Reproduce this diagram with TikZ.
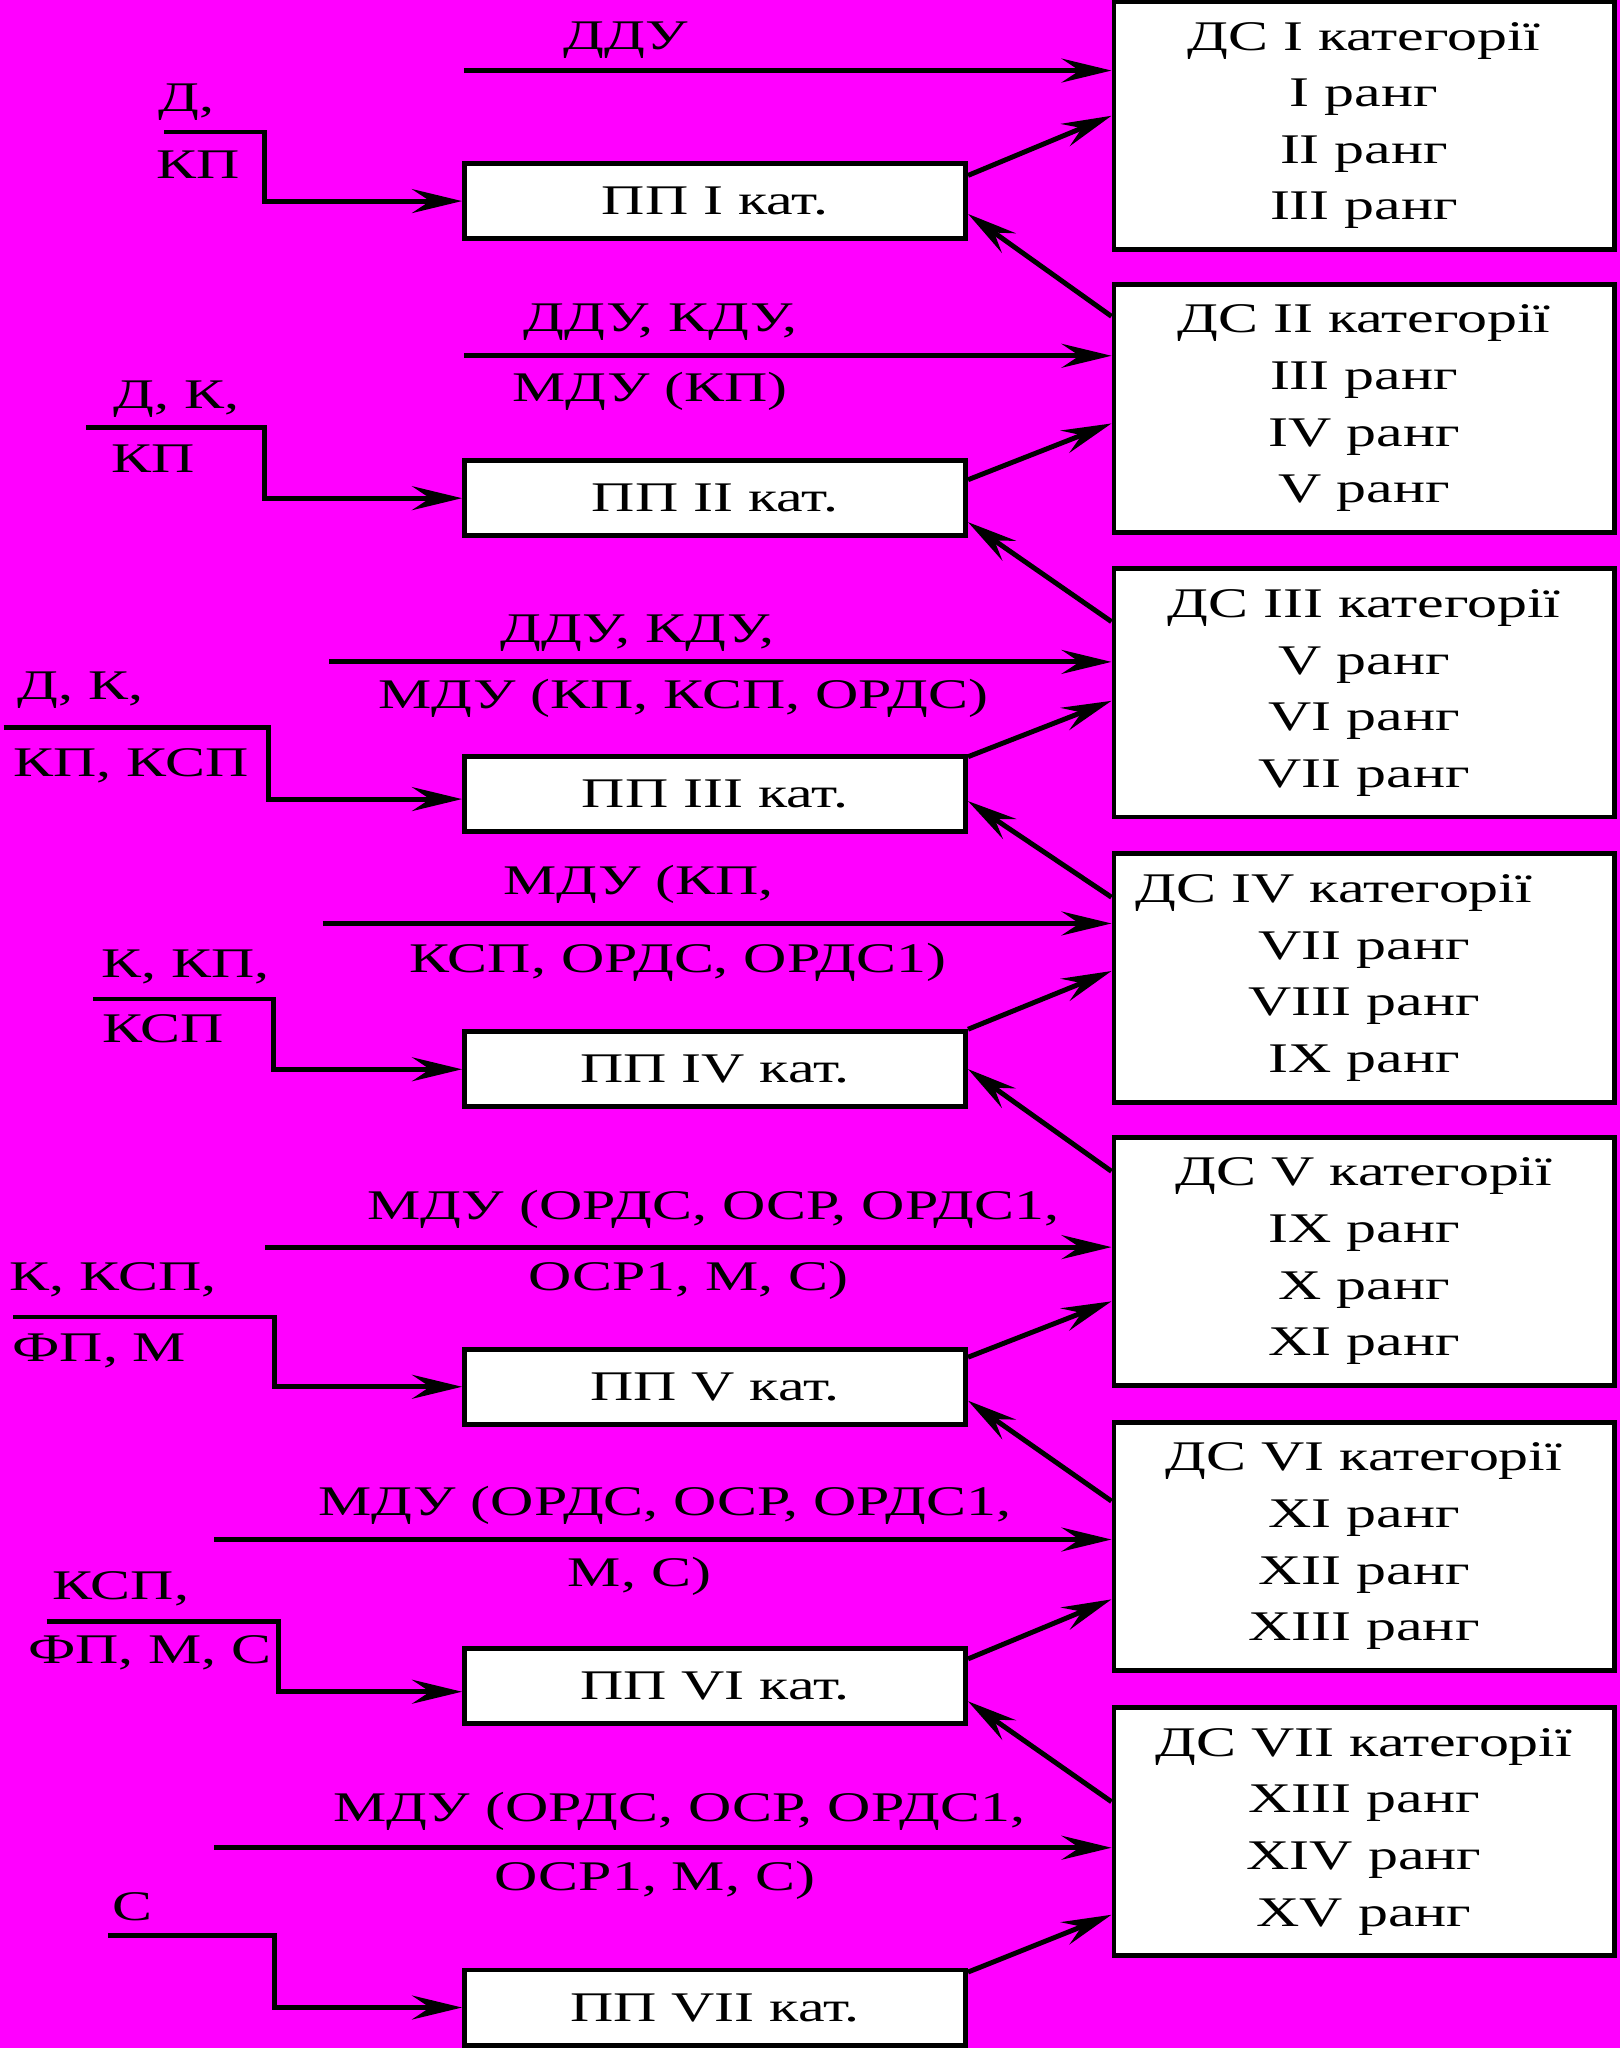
\documentclass[tikz,border=0pt]{standalone}
\usepackage{fontspec}
\setmainfont{Liberation Serif}[FakeStretch=1.42]
\usepackage{tikz}
\usetikzlibrary{arrows.meta}
\usetikzlibrary{calc}
\usepackage{xcolor}
\definecolor{bgmagenta}{RGB}{255,0,255}

\begin{document}
\begin{tikzpicture}[x=0.013065cm, y=-0.013065cm,
	font=\fontsize{12pt}{16.1pt}\selectfont,
	dsbox/.style={draw, line width=1.4pt, fill=white, inner sep=0pt, minimum width=5cm, minimum height=2.482cm, align=center},
	ppbox/.style={draw, line width=1.4pt, fill=white, inner sep=0pt, minimum width=5.01cm, minimum height=0.751cm},
	arr/.style={line width=1.4pt, -{Stealth[length=5mm, width=2.4mm, inset=1.8mm]}},
	lbl/.style={inner sep=0pt, anchor=base},
	lbll/.style={inner sep=0pt, anchor=base west}]
	\useasboundingbox (0,0) rectangle (1240,1567.5);
	\fill[bgmagenta] (0,0) rectangle (1240,1567.5);
	
	% right column
	\node[dsbox] (ds1) at (1044,96) {ДС I категорії\\I ранг\\II ранг\\III ранг};
	\node[dsbox] (ds2) at (1044,312.5) {ДС II категорії\\III ранг\\IV ранг\\V ранг};
	\node[dsbox] (ds3) at (1044,530.3) {ДС III категорії\\V ранг\\VI ранг\\VII ранг};
	\node[dsbox] (ds4) at (1044,748.6) {ДС IV категорії\hspace*{0.6cm}\\VII ранг\\VIII ранг\\IX ранг};
	\node[dsbox] (ds5) at (1044,965.4) {ДС V категорії\\IX ранг\\X ранг\\XI ранг};
	\node[dsbox] (ds6) at (1044,1183.5) {ДС VI категорії\\XI ранг\\XII ранг\\XIII ранг};
	\node[dsbox] (ds7) at (1044,1401.9) {ДС VII категорії\\XIII ранг\\XIV ранг\\XV ранг};
	
	% middle column
	\node[ppbox] (pp1) at (547.25,153.9) {ПП I кат.};
	\node[ppbox] (pp2) at (547.25,381.3) {ПП II кат.};
	\node[ppbox] (pp3) at (547.25,607.8) {ПП III кат.};
	\node[ppbox] (pp4) at (547.25,818.4) {ПП IV кат.};
	\node[ppbox] (pp5) at (547.25,1061.4) {ПП V кат.};
	\node[ppbox] (pp6) at (547.25,1290.3) {ПП VI кат.};
	\node[ppbox] (pp7) at (547.25,1536.5) {ПП VII кат.};
	
	% straight inputs
	\coordinate (in1) at (355,54);
	\coordinate (in2) at (355,272.3);
	\coordinate (in3) at (252,506.6);
	\coordinate (in4) at (247,706.8);
	\coordinate (in5) at (203,954.5);
	\coordinate (in6) at (164,1178.3);
	\coordinate (in7) at (164,1414.2);
	\draw[arr] (in1) -- (in1 -| ds1.west);
	\draw[arr] (in2) -- (in2 -| ds2.west);
	\draw[arr] (in3) -- (in3 -| ds3.west);
	\draw[arr] (in4) -- (in4 -| ds4.west);
	\draw[arr] (in5) -- (in5 -| ds5.west);
	\draw[arr] (in6) -- (in6 -| ds6.west);
	\draw[arr] (in7) -- (in7 -| ds7.west);
	
	\node[lbl] (in1a) at (479,37.8) {ДДУ};
	\node[lbl] (in2a) at (505.7,253.9) {ДДУ, КДУ,};
	\node[lbl] (in2b) at (497.7,307.4) {МДУ (КП)};
	\node[lbl] (in3a) at (488,491.6) {ДДУ, КДУ,};
	\node[lbl] (in3b) at (523,542.2) {МДУ (КП, КСП, ОРДС)};
	\node[lbl] (in4a) at (488.8,685) {МДУ (КП,};
	\node[lbl] (in4b) at (519,744.5) {КСП, ОРДС, ОРДС1)};
	\node[lbl] (in5a) at (546,933) {МДУ (ОРДС, ОСР, ОРДС1,};
	\node[lbl] (in5b) at (527,988) {ОСР1, М, С)};
	\node[lbl] (in6a) at (509,1160) {МДУ (ОРДС, ОСР, ОРДС1,};
	\node[lbl] (in6b) at (489.4,1214) {М, С)};
	\node[lbl] (in7a) at (520,1393.8) {МДУ (ОРДС, ОСР, ОРДС1,};
	\node[lbl] (in7b) at (501.3,1447.3) {ОСР1, М, С)};
	
	% stepped inputs
	\coordinate (st1) at (125.7,101);
	\coordinate (st2) at (66,327.3);
	\coordinate (st3) at (2.8,557);
	\coordinate (st4) at (71.2,764.6);
	\coordinate (st5) at (10,1008);
	\coordinate (st6) at (35.6,1240.7);
	\coordinate (st7) at (83,1481.3);
	\draw[arr] (st1) -- ++(76.7,0) |- (pp1.west);
	\draw[arr] (st2) -- ++(136.4,0) |- (pp2.west);
	\draw[arr] (st3) -- ++(202.8,0) |- ($(pp3.west)+(0,3.8)$);
	\draw[arr] (st4) -- ++(138.3,0) |- (pp4.west);
	\draw[arr] (st5) -- ++(200,0) |- (pp5.west);
	\draw[arr] (st6) -- ++(177.9,0) |- ($(pp6.west)+(0,4.5)$);
	\draw[arr] (st7) -- ++(127.3,0) |- (pp7.west);
	
	\node[lbll] (st1a) at (120.6,85.5) {Д,};
	\node[lbll] (st1b) at (119.4,136.5) {КП};
	\node[lbll] (st2a) at (86.2,312.5) {Д, К,};
	\node[lbll] (st2b) at (85,361.8) {КП};
	\node[lbll] (st3a) at (13,535) {Д, К,};
	\node[lbll] (st3b) at (10,594.3) {КП, КСП};
	\node[lbll] (st4a) at (77,748.3) {К, КП,};
	\node[lbll] (st4b) at (77.8,797.8) {КСП};
	\node[lbll] (st5a) at (7,988) {К, КСП,};
	\node[lbll] (st5b) at (9,1042) {ФП, М};
	\node[lbll] (st6a) at (39.5,1224) {КСП,};
	\node[lbll] (st6b) at (21,1273.4) {ФП, М, С};
	\node[lbll] (st7a) at (85.4,1469.6) {С};
	
	% up to the next category
	\draw[arr] ($(pp1.north east)+(0,11)$) -- ($(ds1.north west)+(0,89.5)$);
	\draw[arr] ($(pp2.north east)+(0,16.5)$) -- ($(ds2.north west)+(0,108.5)$);
	\draw[arr] ($(pp3.north east)+(0,2)$) -- ($(ds3.north west)+(0,103)$);
	\draw[arr] ($(pp4.north east)+(0,0)$) -- ($(ds4.north west)+(0,91.5)$);
	\draw[arr] ($(pp5.north east)+(0,8)$) -- ($(ds5.north west)+(0,127.5)$);
	\draw[arr] ($(pp6.north east)+(0,10)$) -- ($(ds6.north west)+(0,137.5)$);
	\draw[arr] ($(pp7.north east)+(0,3.5)$) -- ($(ds7.north west)+(0,160.5)$);
	
	% back from the next category
	\draw[arr] ($(ds2.north west)+(0,26.5)$) -- ($(pp1.north east)+(0,40.5)$);
	\draw[arr] ($(ds3.north west)+(0,42.4)$) -- ($(pp2.north east)+(0,49)$);
	\draw[arr] ($(ds4.north west)+(0,35)$) -- ($(pp3.north east)+(0,36)$);
	\draw[arr] ($(ds5.north west)+(0,28)$) -- ($(pp4.north east)+(0,30.5)$);
	\draw[arr] ($(ds6.north west)+(0,62.3)$) -- ($(pp5.north east)+(0,41.3)$);
	\draw[arr] ($(ds7.north west)+(0,74)$) -- ($(pp6.north east)+(0,42.5)$);
	
\end{tikzpicture}
\end{document}
